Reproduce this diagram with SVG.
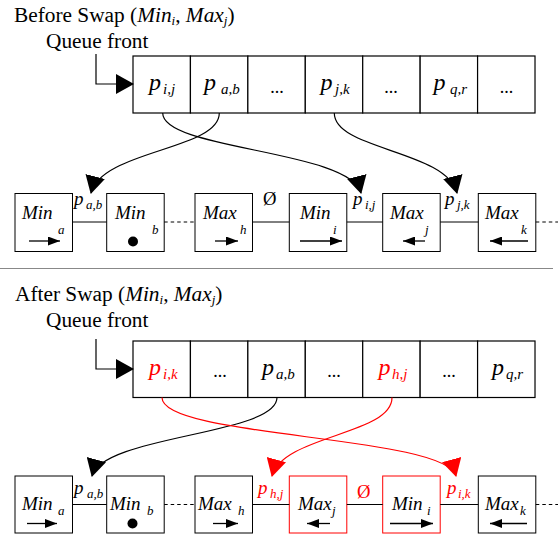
<svg xmlns="http://www.w3.org/2000/svg" width="558" height="538" viewBox="0 0 558 538">
<style>
text{font-family:"Liberation Serif","Times New Roman",serif;fill:#000}
.ttl{font-size:21.33px}
.it{font-style:italic}
.red{fill:#f00}
.qp{font-size:24px;font-style:italic}
.qs{font-size:15px;font-style:italic}
.bm{font-size:19px;font-style:italic}
.bs{font-size:13px;font-style:italic}
.lp{font-size:19px;font-style:italic}
.ls{font-size:13px;font-style:italic}
.dots{font-size:18px;text-anchor:middle}
.empty{font-size:18.67px}
.cell{fill:#fff;stroke:#000;stroke-width:1.2}
.box{fill:#fff;stroke:#000;stroke-width:1}
.rbox{fill:#fff;stroke:#f00;stroke-width:1}
.ln{fill:none;stroke:#000;stroke-width:1}
.dash{fill:none;stroke:#000;stroke-width:1;stroke-dasharray:3.5,3}
.conn{fill:none;stroke:#000;stroke-width:1.2}
.rconn{fill:none;stroke:#f00;stroke-width:1.2}
.sa{fill:none;stroke:#000;stroke-width:1.3}
</style>
<defs>
<marker id="ah" markerUnits="userSpaceOnUse" markerWidth="18" markerHeight="20" viewBox="0 0 18 20" refX="17" refY="10" orient="auto"><path d="M0,0 L18,10 L0,20 Z" fill="#000"/></marker>
<marker id="ahr" markerUnits="userSpaceOnUse" markerWidth="18" markerHeight="20" viewBox="0 0 18 20" refX="17" refY="10" orient="auto"><path d="M0,0 L18,10 L0,20 Z" fill="#f00"/></marker>
<marker id="sah" markerUnits="userSpaceOnUse" markerWidth="12" markerHeight="9" viewBox="0 0 12 9" refX="12" refY="4.5" orient="auto"><path d="M0,0 L12,4.5 L0,9 Z" fill="#000"/></marker>
</defs>

<!-- Titles -->
<g id="title-before">
<text class="ttl" x="14" y="21.5">Before Swap (<tspan class="it">Min</tspan><tspan class="it" font-size="13" dy="3">i</tspan><tspan dy="-3">, </tspan><tspan class="it">Max</tspan><tspan class="it" font-size="13" dy="3">j</tspan><tspan dy="-3">)</tspan></text>
<text class="ttl" x="46" y="47.5">Queue front</text>
</g>

<g id="separator"><line x1="0" y1="268.5" x2="553" y2="268.5" stroke="#888" stroke-width="1"/></g>

<g id="title-after">
<text class="ttl" x="15" y="301">After Swap (<tspan class="it">Min</tspan><tspan class="it" font-size="13" dy="3">i</tspan><tspan dy="-3">, </tspan><tspan class="it">Max</tspan><tspan class="it" font-size="13" dy="3">j</tspan><tspan dy="-3">)</tspan></text>
<text class="ttl" x="46" y="326.5">Queue front</text>
</g>

<!-- Top queue -->
<g id="queue-before">
<rect class="cell" x="133" y="56" width="57.43" height="57"/>
<rect class="cell" x="190.43" y="56" width="57.43" height="57"/>
<rect class="cell" x="247.86" y="56" width="57.43" height="57"/>
<rect class="cell" x="305.29" y="56" width="57.43" height="57"/>
<rect class="cell" x="362.72" y="56" width="57.43" height="57"/>
<rect class="cell" x="420.15" y="56" width="57.43" height="57"/>
<rect class="cell" x="477.58" y="56" width="57.43" height="57"/>
<text class="qp" x="149" y="90">p<tspan class="qs" x="163" y="94">i,j</tspan></text>
<text class="qp" x="204" y="90">p<tspan class="qs" x="221" y="94">a,b</tspan></text>
<text class="dots" x="277" y="93">...</text>
<text class="qp" x="320.5" y="90">p<tspan class="qs" x="335" y="94">j,k</tspan></text>
<text class="dots" x="391" y="93">...</text>
<text class="qp" x="433.5" y="90">p<tspan class="qs" x="450" y="94">q,r</tspan></text>
<text class="dots" x="506.5" y="93">...</text>
</g>

<!-- Bottom queue -->
<g id="queue-after">
<rect class="cell" x="133" y="341" width="57.43" height="56.5"/>
<rect class="cell" x="190.43" y="341" width="57.43" height="56.5"/>
<rect class="cell" x="247.86" y="341" width="57.43" height="56.5"/>
<rect class="cell" x="305.29" y="341" width="57.43" height="56.5"/>
<rect class="cell" x="362.72" y="341" width="57.43" height="56.5"/>
<rect class="cell" x="420.15" y="341" width="57.43" height="56.5"/>
<rect class="cell" x="477.58" y="341" width="57.43" height="56.5"/>
<text class="qp red" x="149" y="374.5">p<tspan class="qs" x="163" y="378.5">i,k</tspan></text>
<text class="dots" x="220" y="377">...</text>
<text class="qp" x="262" y="374.5">p<tspan class="qs" x="276" y="378.5">a,b</tspan></text>
<text class="dots" x="334" y="377">...</text>
<text class="qp red" x="378.5" y="374.5">p<tspan class="qs" x="392" y="378.5">h,j</tspan></text>
<text class="dots" x="449" y="377">...</text>
<text class="qp" x="492" y="374.5">p<tspan class="qs" x="506" y="378.5">q,r</tspan></text>
</g>

<!-- Top list -->
<g id="before-Min-a"><rect class="box" x="15" y="193.5" width="57.5" height="58"/><text class="bm" x="22" y="219">Min<tspan class="bs" x="58" y="234">a</tspan></text><line class="sa" x1="29" y1="241" x2="60" y2="241" marker-end="url(#sah)"/></g>
<g id="before-Min-b"><rect class="box" x="106.7" y="193.5" width="57.5" height="58"/><text class="bm" x="115" y="219">Min<tspan class="bs" x="152" y="234">b</tspan></text><circle cx="133" cy="241.5" r="5" fill="#000"/></g>
<g id="before-Max-h"><rect class="box" x="195" y="193.5" width="57.5" height="58"/><text class="bm" x="203" y="219">Max<tspan class="bs" x="240" y="234">h</tspan></text><line class="sa" x1="215" y1="241" x2="238" y2="241" marker-end="url(#sah)"/></g>
<g id="before-Min-i"><rect class="box" x="289.3" y="193.5" width="57.5" height="58"/><text class="bm" x="300" y="219">Min<tspan class="bs" x="333" y="234">i</tspan></text><line class="sa" x1="300" y1="241" x2="342" y2="241" marker-end="url(#sah)"/></g>
<g id="before-Max-j"><rect class="box" x="382.7" y="193.5" width="57.5" height="58"/><text class="bm" x="390" y="219">Max<tspan class="bs" x="425" y="234">j</tspan></text><line class="sa" x1="425" y1="241" x2="403" y2="241" marker-end="url(#sah)"/></g>
<g id="before-Max-k"><rect class="box" x="478.3" y="193.5" width="57.5" height="58"/><text class="bm" x="485" y="219">Max<tspan class="bs" x="521" y="234">k</tspan></text><line class="sa" x1="528" y1="241" x2="490" y2="241" marker-end="url(#sah)"/></g>

<g id="before-links">
<line class="ln" x1="72.5" y1="222" x2="106.7" y2="222"/>
<line class="dash" x1="164.2" y1="222" x2="195" y2="222"/>
<line class="ln" x1="252.5" y1="222" x2="289.3" y2="222"/>
<line class="ln" x1="346.8" y1="222" x2="382.7" y2="222"/>
<line class="ln" x1="440.2" y1="222" x2="478.3" y2="222"/>
<line class="dash" x1="535.8" y1="222" x2="558" y2="222"/>
<text class="lp" x="74" y="205">p<tspan class="ls" x="86" y="209">a,b</tspan></text>
<text class="empty" x="263" y="205">Ø</text>
<text class="lp" x="353" y="205">p<tspan class="ls" x="365" y="209">i,j</tspan></text>
<text class="lp" x="445" y="205">p<tspan class="ls" x="457" y="209">j,k</tspan></text>
</g>

<!-- Bottom list -->
<g id="after-Min-a"><rect class="box" x="15" y="476" width="57.5" height="57"/><text class="bm" x="22" y="510">Min<tspan class="bs" x="58" y="515">a</tspan></text><line class="sa" x1="27" y1="523.5" x2="57" y2="523.5" marker-end="url(#sah)"/></g>
<g id="after-Min-b"><rect class="box" x="106.7" y="476" width="57.5" height="57"/><text class="bm" x="110" y="510">Min<tspan class="bs" x="147" y="515">b</tspan></text><circle cx="132.5" cy="523.5" r="5" fill="#000"/></g>
<g id="after-Max-h"><rect class="box" x="195" y="476" width="57.5" height="57"/><text class="bm" x="198" y="510">Max<tspan class="bs" x="238" y="515">h</tspan></text><line class="sa" x1="213" y1="523.5" x2="238" y2="523.5" marker-end="url(#sah)"/></g>
<g id="after-Max-j"><rect class="rbox" x="289.3" y="476" width="57.5" height="57"/><text class="bm" x="298" y="510">Max<tspan class="bs" x="332" y="515">j</tspan></text><line class="sa" x1="330" y1="523.5" x2="307" y2="523.5" marker-end="url(#sah)"/></g>
<g id="after-Min-i"><rect class="rbox" x="382.7" y="476" width="57.5" height="57"/><text class="bm" x="392" y="510">Min<tspan class="bs" x="427" y="515">i</tspan></text><line class="sa" x1="390" y1="523.5" x2="433" y2="523.5" marker-end="url(#sah)"/></g>
<g id="after-Max-k"><rect class="box" x="478.3" y="476" width="57.5" height="57"/><text class="bm" x="485" y="510">Max<tspan class="bs" x="520" y="515">k</tspan></text><line class="sa" x1="527" y1="523.5" x2="490" y2="523.5" marker-end="url(#sah)"/></g>

<g id="after-links">
<line class="ln" x1="72.5" y1="504.5" x2="106.7" y2="504.5"/>
<line class="dash" x1="164.2" y1="504.5" x2="195" y2="504.5"/>
<line class="ln" x1="252.5" y1="504.5" x2="289.3" y2="504.5"/>
<line class="ln" x1="346.8" y1="504.5" x2="382.7" y2="504.5"/>
<line class="ln" x1="440.2" y1="504.5" x2="478.3" y2="504.5"/>
<line class="dash" x1="535.8" y1="504.5" x2="558" y2="504.5"/>
<text class="lp" x="74" y="494">p<tspan class="ls" x="87" y="498">a,b</tspan></text>
<text class="lp red" x="258" y="494">p<tspan class="ls" x="270" y="498">h,j</tspan></text>
<text class="empty red" x="357" y="498">Ø</text>
<text class="lp red" x="447" y="494">p<tspan class="ls" x="458" y="498">i,k</tspan></text>
</g>

<!-- Connectors -->
<g id="connectors">
<path class="conn" d="M96,54 V84 H133" marker-end="url(#ah)"/>
<path class="conn" d="M162.7,113 C162.7,150 350,150 361,193" marker-end="url(#ah)"/>
<path class="conn" d="M219.3,113 C219.3,150 102,150 91,193" marker-end="url(#ah)"/>
<path class="conn" d="M334.3,113 C334.3,150 446,150 457,193" marker-end="url(#ah)"/>
<path class="conn" d="M96,339 V369 H133" marker-end="url(#ah)"/>
<path class="conn" d="M277,397.5 C277,435 103,435 92,476" marker-end="url(#ah)"/>
<path class="rconn" d="M162,397.5 C162,438 445,435 456,476" marker-end="url(#ahr)"/>
<path class="rconn" d="M392,397.5 C392,435 283,435 272,476" marker-end="url(#ahr)"/>
</g>
</svg>
